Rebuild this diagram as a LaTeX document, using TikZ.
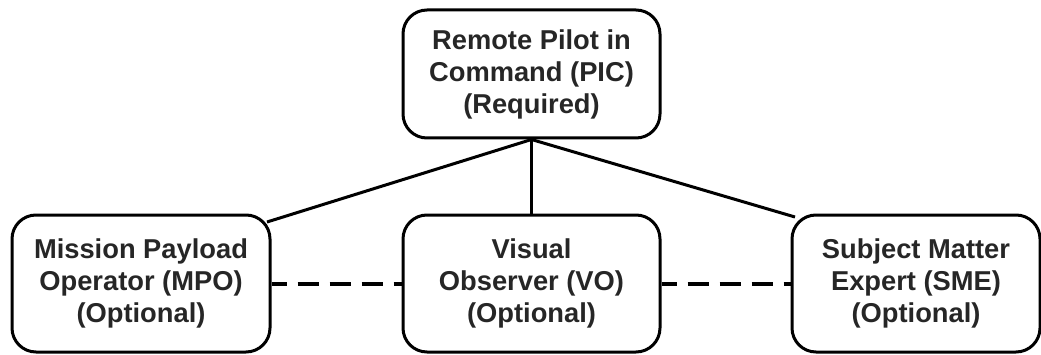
\documentclass[tikz,border=0pt]{standalone}
\usepackage{fontspec}
\setmainfont{Liberation Sans}
\usetikzlibrary{calc}
\begin{document}
\begin{tikzpicture}[x=1pt,y=1pt,
  role/.style={draw=black, line width=3pt, rounded corners=24pt, align=center,
    font=\bfseries\fontsize{27.3}{32}\selectfont, text=black!85, inner sep=0pt},
  link/.style={line width=3pt},
  optlink/.style={line width=4pt, dash pattern=on 21pt off 11pt, dash phase=6pt}]
\useasboundingbox (0,0) rectangle (1041,354);
\node[role, minimum width=257pt, minimum height=128pt] (pic) at (531.5,280)
  {Remote Pilot in\\Command (PIC)\\(Required)};
\node[role, minimum width=258pt, minimum height=137pt] (mpo) at (141,70.5)
  {Mission Payload\\Operator (MPO)\\(Optional)};
\node[role, minimum width=257pt, minimum height=137pt] (vo) at (531.5,70.5)
  {Visual\\Observer (VO)\\(Optional)};
\node[role, minimum width=248pt, minimum height=137pt] (sme) at (916,70.5)
  {Subject Matter\\Expert (SME)\\(Optional)};
% reporting lines from the pilot in command
\draw[link] (pic.south) -- ($(mpo.north east)+(-4.5,-8.5)$);
\draw[link] (pic.south) -- (vo.north);
\draw[link] (pic.south) -- ($(sme.north west)+(4.5,-3.5)$);
% optional coordination between crew members
\draw[optlink] (mpo.east) -- (vo.west);
\draw[optlink] (vo.east) -- (sme.west);
\end{tikzpicture}
\end{document}
